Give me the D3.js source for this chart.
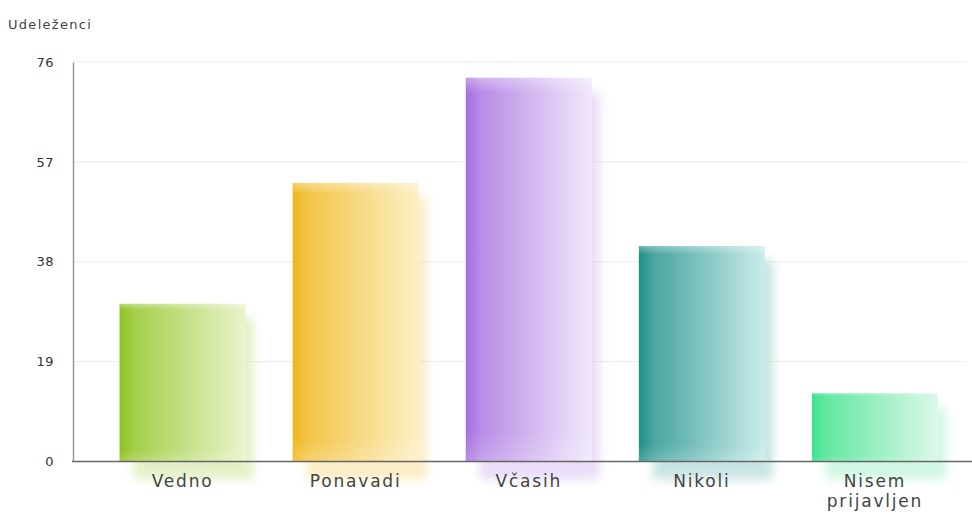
<!DOCTYPE html>
<html>
<head>
<meta charset="utf-8">
<script src="https://cdn.jsdelivr.net/npm/d3@7"></script>
<style>
  html, body { margin: 0; padding: 0; background: #fff; }
  svg { display: block; }
</style>
</head>
<body>
<svg id="chart" width="972" height="519"></svg>
<script>
// Survey answers and respondent counts
const categories = ["Vedno", "Ponavadi", "Včasih", "Nikoli", "Nisem prijavljen"];
const values = [30, 53, 73, 41, 13];
const yTicks = [0, 19, 38, 57, 76];
const yTitle = "Udeleženci";
const darkColors = ["#8cc21e", "#f0b61c", "#a56ddf", "#1f8f88", "#3ce28b"];
const lightColors = ["#eaf4cc", "#fcf0c6", "#f1e8fb", "#c9ecea", "#dcf8e9"];

const svg = d3.select("#chart");
const axisX = 73, plotRight = 966;
const font = "'DejaVu Sans', Verdana, sans-serif";
const y = d3.scaleLinear().domain([0, 76]).range([461.5, 62]);
const x = d3.scaleBand().domain(categories).range([96, 961.5])
  .paddingInner(0.272).paddingOuter(0.136);

const defs = svg.append("defs");
categories.forEach((c, i) => {
  const g = defs.append("linearGradient").attr("id", "grad" + i)
    .attr("x1", "0%").attr("x2", "100%").attr("y1", "0%").attr("y2", "0%");
  g.append("stop").attr("offset", "0%").attr("stop-color", darkColors[i]);
  g.append("stop").attr("offset", "12%").attr("stop-color", d3.interpolateRgb(darkColors[i], lightColors[i])(0.25));
  g.append("stop").attr("offset", "100%").attr("stop-color", lightColors[i]);
});
// soft shading at the top and bottom of each bar
const vg = defs.append("linearGradient").attr("id", "vshade")
  .attr("x1", "0%").attr("x2", "0%").attr("y1", "0%").attr("y2", "100%");
vg.append("stop").attr("offset", "0%").attr("stop-color", "#fff").attr("stop-opacity", 0.35);
vg.append("stop").attr("offset", "4%").attr("stop-color", "#fff").attr("stop-opacity", 0);
vg.append("stop").attr("offset", "92%").attr("stop-color", "#fff").attr("stop-opacity", 0);
vg.append("stop").attr("offset", "100%").attr("stop-color", "#fff").attr("stop-opacity", 0.2);

defs.append("filter").attr("id", "blur")
  .attr("x", "-30%").attr("y", "-30%").attr("width", "160%").attr("height", "160%")
  .append("feGaussianBlur").attr("stdDeviation", 5);

// gridlines
svg.append("g").selectAll("line").data(yTicks.filter(t => t > 0)).join("line")
  .attr("x1", axisX).attr("x2", plotRight)
  .attr("y1", d => y(d)).attr("y2", d => y(d))
  .attr("stroke", "#ececec").attr("stroke-width", 1);

// blurred shadows behind the bars
svg.append("g").selectAll("rect").data(values).join("rect")
  .attr("x", (d, i) => x(categories[i]) + 14)
  .attr("y", d => y(d) + 14)
  .attr("width", x.bandwidth() - 6)
  .attr("height", d => y(0) - y(d) + 4)
  .attr("fill", (d, i) => d3.interpolateRgb(darkColors[i], lightColors[i])(0.5))
  .attr("opacity", 0.4)
  .attr("filter", "url(#blur)");

// bars
const bars = svg.append("g");
bars.selectAll("rect.bar").data(values).join("rect").attr("class", "bar")
  .attr("x", (d, i) => x(categories[i]))
  .attr("y", d => y(d))
  .attr("width", x.bandwidth())
  .attr("height", d => y(0) - y(d))
  .attr("fill", (d, i) => `url(#grad${i})`);
bars.selectAll("rect.shade").data(values).join("rect").attr("class", "shade")
  .attr("x", (d, i) => x(categories[i]))
  .attr("y", d => y(d))
  .attr("width", x.bandwidth())
  .attr("height", d => y(0) - y(d))
  .attr("fill", "url(#vshade)");

// y axis
const yAxis = svg.append("g").attr("transform", `translate(${axisX},0)`)
  .call(d3.axisLeft(y).tickValues(yTicks).tickSize(0).tickPadding(19));
yAxis.select(".domain").attr("stroke", "#9a9a9a").attr("stroke-width", 1.5);
yAxis.selectAll("text").attr("font-family", font)
  .attr("font-size", 13).attr("letter-spacing", 0.5).attr("fill", "#333");

// x axis
const xAxis = svg.append("g").attr("transform", `translate(0,${y(0)})`)
  .call(d3.axisBottom(x).tickSize(0).tickPadding(13));
xAxis.select(".domain").remove();
xAxis.append("line").attr("x1", axisX - 1).attr("x2", 972)
  .attr("stroke", "#666").attr("stroke-width", 1.5);
xAxis.selectAll(".tick text")
  .attr("font-family", font)
  .attr("font-size", 17).attr("letter-spacing", 1.8).attr("fill", "#444")
  .each(function(d) {
    const words = d.split(" ");
    if (words.length > 1) {
      const t = d3.select(this).text(null);
      words.forEach((w, k) => t.append("tspan").attr("x", 0)
        .attr("dy", k === 0 ? "0.71em" : "1.2em").text(w));
      t.attr("dy", null);
    }
  });

// axis title
svg.append("text").attr("x", 8).attr("y", 29)
  .attr("font-family", font).attr("letter-spacing", 1.3)
  .attr("font-size", 13).attr("fill", "#444").text(yTitle);
</script>
</body>
</html>
